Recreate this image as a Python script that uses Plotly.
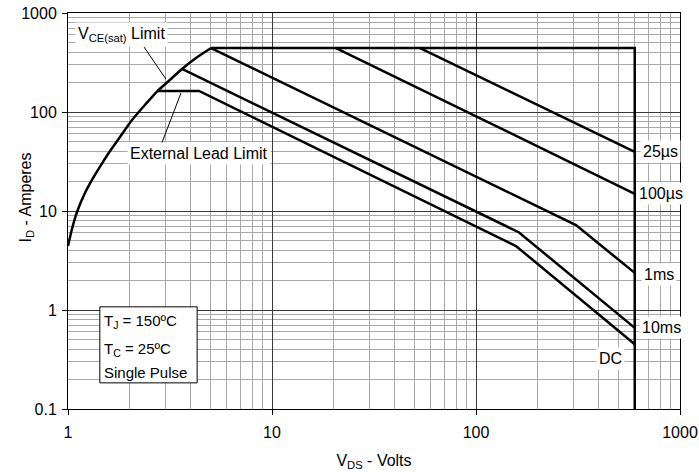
import numpy as np
import plotly.graph_objects as go

# ---- data (V_DS in volts, I_D in amperes) ----
vce_v = [1.0, 1.046, 1.107, 1.211, 1.326, 1.451, 1.607, 1.798, 2.06, 2.385, 2.73, 3.16, 3.62, 4.24, 5.03]
vce_i = [4.43, 6.58, 9.77, 15.2, 21.5, 29.1, 40.4, 55.9, 83, 118, 161, 211, 272, 351, 443]

limit_v = [5.03, 600, 600]
limit_i = [443, 443, 0.1]

us25_v = [53.2, 600]
us25_i = [443, 39.5]

us100_v = [20.6, 600]
us100_i = [443, 14.9]

ms1_v = [5.03, 309, 600]
ms1_i = [443, 7.2, 2.37]

ms10_v = [3.62, 162, 600]
ms10_i = [272, 6.1, 0.66]

dc_v = [2.73, 4.39, 157, 600]
dc_i = [163, 163, 4.43, 0.45]

# leader lines for the two limit labels
lead_vce_v = [2.36, 3.02]
lead_vce_i = [453, 215]
lead_ext_v = [3.58, 2.86]
lead_ext_i = [155.6, 46.5]

curve_labels = ["25µs", "100µs", "1ms", "10ms", "DC"]
label_v = [798, 810, 790, 810, 454]
label_i = [39.5, 14.9, 2.3, 0.66, 0.32]

x_ticks = [1, 10, 100, 1000]
y_ticks = [0.1, 1, 10, 100, 1000]

FONT = "Arial, Liberation Sans, sans-serif"
FS = 16

fig = go.Figure()

fig.add_trace(go.Scatter(x=vce_v, y=vce_i, mode="lines",
                         line=dict(color="black", width=2.5, shape="spline", smoothing=0.6)))
for xs, ys in [(limit_v, limit_i), (us25_v, us25_i), (us100_v, us100_i),
               (ms1_v, ms1_i), (ms10_v, ms10_i), (dc_v, dc_i)]:
    fig.add_trace(go.Scatter(x=xs, y=ys, mode="lines",
                             line=dict(color="black", width=2.5)))
for xs, ys in [(lead_vce_v, lead_vce_i), (lead_ext_v, lead_ext_i)]:
    fig.add_trace(go.Scatter(x=xs, y=ys, mode="lines",
                             line=dict(color="black", width=1)))

minor_vals = [m * 10 ** e for e in range(-1, 3) for m in range(2, 10)]

axis_common = dict(
    type="log",
    automargin=False,
    showline=True, linecolor="black", linewidth=1, mirror=True,
    ticks="outside", ticklen=5, tickcolor="black",
    showgrid=True, gridcolor="#3a3a3a", gridwidth=1,
    tickfont=dict(family=FONT, size=FS, color="black"),
    zeroline=False,
)

fig.update_xaxes(**axis_common, range=[0, 3], tickmode="array", tickvals=x_ticks,
                 ticktext=[str(v) for v in x_ticks], ticklabelstandoff=4,
                 minor=dict(tickmode="array", tickvals=[v for v in minor_vals if 1 <= v <= 1000],
                            showgrid=True, gridcolor="#a8a8a8", gridwidth=1, ticks=""),
                 title=dict(text="V<sub>DS</sub> - Volts", font=dict(family=FONT, size=FS, color="black"),
                            standoff=14))
fig.update_yaxes(**axis_common, range=[-1, 3], tickmode="array", tickvals=y_ticks,
                 ticktext=["0.1", "1", "10", "100", "1000"], ticklabelstandoff=2,
                 minor=dict(tickmode="array", tickvals=minor_vals,
                            showgrid=True, gridcolor="#a8a8a8", gridwidth=1, ticks=""))

annotations = []
for t, v, i in zip(curve_labels, label_v, label_i):
    annotations.append(dict(x=np.log10(v), y=np.log10(i), xref="x", yref="y", text=t,
                            showarrow=False, bgcolor="white", borderpad=2,
                            font=dict(family=FONT, size=FS, color="black")))
annotations.append(dict(x=np.log10(1.82), y=np.log10(600), xref="x", yref="y",
                        text="V<sub>CE(sat)</sub> Limit", showarrow=False, bgcolor="white",
                        borderpad=2, font=dict(family=FONT, size=FS, color="black")))
annotations.append(dict(x=np.log10(4.39), y=np.log10(38.5), xref="x", yref="y",
                        text="External Lead Limit", showarrow=False, bgcolor="white",
                        borderpad=2, font=dict(family=FONT, size=FS, color="black")))
for txt, yp in [("T<sub>J</sub> = 150ºC", 0.192), ("T<sub>C</sub> = 25ºC", 0.122), ("Single Pulse", 0.065)]:
    annotations.append(dict(x=0.055, y=yp, xref="paper", yref="paper", xanchor="left",
                            text=txt, showarrow=False,
                            font=dict(family=FONT, size=FS - 1, color="black")))
# y-axis title
annotations.append(dict(x=-0.087, y=0.535, xref="paper", yref="paper", textangle=-90,
                        text="I<sub>D</sub> - Amperes", showarrow=False,
                        font=dict(family=FONT, size=FS, color="black")))

fig.update_layout(
    width=699, height=472,
    margin=dict(l=68, r=19, t=13, b=63),
    paper_bgcolor="white", plot_bgcolor="white",
    showlegend=False,
    annotations=annotations,
    shapes=[dict(type="rect", xref="paper", yref="paper", x0=0.052, x1=0.211, y0=0.066, y1=0.258,
                 fillcolor="white", line=dict(color="black", width=1), layer="above")],
)

fig.write_html("out.html", config={"displayModeBar": False},
               post_script="document.body.style.margin='0';document.body.style.overflow='hidden';")
